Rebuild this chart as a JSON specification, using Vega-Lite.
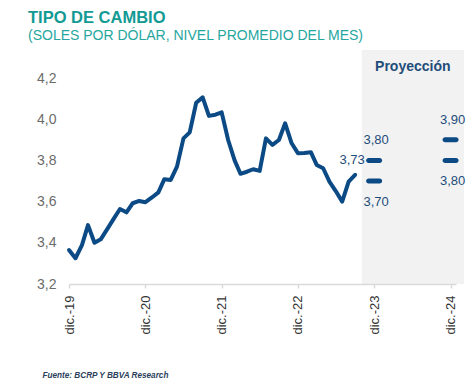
{
  "$schema": "https://vega.github.io/schema/vega-lite/v6.json",
  "autosize": {"type": "none"},
  "width": 387,
  "height": 206,
  "padding": {"left": 69, "top": 78, "right": 18, "bottom": 97},
  "background": "white",
  "title": {
    "text": "TIPO DE CAMBIO",
    "subtitle": "(SOLES POR DÓLAR, NIVEL PROMEDIO DEL MES)",
    "anchor": "start",
    "frame": "group",
    "dx": -41,
    "offset": 7,
    "font": "Liberation Sans",
    "fontSize": 16.5,
    "fontWeight": "bold",
    "color": "#139a94",
    "subtitleFont": "Liberation Sans",
    "subtitleFontSize": 14,
    "subtitleColor": "#26a69f",
    "subtitlePadding": 3
  },
  "datasets": {
    "serie": [
      {"fecha": "2019-12-01", "valor": 3.365},
      {"fecha": "2020-01-01", "valor": 3.325},
      {"fecha": "2020-02-01", "valor": 3.389},
      {"fecha": "2020-03-01", "valor": 3.486},
      {"fecha": "2020-04-01", "valor": 3.400},
      {"fecha": "2020-05-01", "valor": 3.417},
      {"fecha": "2020-06-01", "valor": 3.466},
      {"fecha": "2020-07-01", "valor": 3.515},
      {"fecha": "2020-08-01", "valor": 3.564},
      {"fecha": "2020-09-01", "valor": 3.548},
      {"fecha": "2020-10-01", "valor": 3.592},
      {"fecha": "2020-11-01", "valor": 3.603},
      {"fecha": "2020-12-01", "valor": 3.597},
      {"fecha": "2021-01-01", "valor": 3.620},
      {"fecha": "2021-02-01", "valor": 3.645},
      {"fecha": "2021-03-01", "valor": 3.708},
      {"fecha": "2021-04-01", "valor": 3.705},
      {"fecha": "2021-05-01", "valor": 3.770},
      {"fecha": "2021-06-01", "valor": 3.907},
      {"fecha": "2021-07-01", "valor": 3.936},
      {"fecha": "2021-08-01", "valor": 4.080},
      {"fecha": "2021-09-01", "valor": 4.106},
      {"fecha": "2021-10-01", "valor": 4.016},
      {"fecha": "2021-11-01", "valor": 4.022},
      {"fecha": "2021-12-01", "valor": 4.033},
      {"fecha": "2022-01-01", "valor": 3.899},
      {"fecha": "2022-02-01", "valor": 3.800},
      {"fecha": "2022-03-01", "valor": 3.735},
      {"fecha": "2022-04-01", "valor": 3.745},
      {"fecha": "2022-05-01", "valor": 3.757},
      {"fecha": "2022-06-01", "valor": 3.749},
      {"fecha": "2022-07-01", "valor": 3.907},
      {"fecha": "2022-08-01", "valor": 3.875},
      {"fecha": "2022-09-01", "valor": 3.899},
      {"fecha": "2022-10-01", "valor": 3.980},
      {"fecha": "2022-11-01", "valor": 3.883},
      {"fecha": "2022-12-01", "valor": 3.835},
      {"fecha": "2023-01-01", "valor": 3.836},
      {"fecha": "2023-02-01", "valor": 3.840},
      {"fecha": "2023-03-01", "valor": 3.778},
      {"fecha": "2023-04-01", "valor": 3.762},
      {"fecha": "2023-05-01", "valor": 3.697},
      {"fecha": "2023-06-01", "valor": 3.650},
      {"fecha": "2023-07-01", "valor": 3.600},
      {"fecha": "2023-08-01", "valor": 3.697},
      {"fecha": "2023-09-01", "valor": 3.730}
    ],
    "proyeccion": [
      {"fecha": "2023-12-01", "escenario": "alto", "valor": 3.80},
      {"fecha": "2023-12-01", "escenario": "bajo", "valor": 3.70},
      {"fecha": "2024-12-01", "escenario": "alto", "valor": 3.90},
      {"fecha": "2024-12-01", "escenario": "bajo", "valor": 3.80}
    ],
    "periodo": [
      {"inicio": "2023-10-03", "fin": "2025-02-03", "etiqueta": "Proyección"}
    ]
  },
  "encoding": {
    "x": {
      "field": "fecha",
      "type": "temporal",
      "scale": {
        "type": "utc",
        "domain": [
          {"year": 2019, "month": 12, "date": 1, "utc": true},
          {"year": 2024, "month": 12, "date": 27, "utc": true}
        ]
      },
      "axis": {
        "title": "Fuente: BCRP Y BBVA Research",
        "titleAnchor": "start",
        "titleAlign": "left",
        "titleX": -27,
        "titlePadding": 37,
        "titleFont": "Liberation Sans",
        "titleFontSize": 8.2,
        "titleFontWeight": "bold",
        "titleFontStyle": "italic",
        "titleColor": "#2b3f5c",
        "values": [
          {"year": 2019, "month": 12, "date": 1, "utc": true},
          {"year": 2020, "month": 12, "date": 1, "utc": true},
          {"year": 2021, "month": 12, "date": 1, "utc": true},
          {"year": 2022, "month": 12, "date": 1, "utc": true},
          {"year": 2023, "month": 12, "date": 1, "utc": true},
          {"year": 2024, "month": 12, "date": 1, "utc": true}
        ],
        "labelExpr": "'dic.-' + utcFormat(datum.value, '%y')",
        "labelAngle": -90,
        "labelFont": "Liberation Sans",
        "labelFontSize": 13,
        "labelColor": "#333333",
        "labelPadding": 7,
        "labelFlush": false,
        "labelOverlap": false,
        "grid": false,
        "domainColor": "#d9d9d9",
        "domainWidth": 1.5,
        "tickColor": "#d9d9d9",
        "tickSize": 4,
        "tickWidth": 1.5,
        "zindex": 1
      }
    },
    "y": {
      "field": "valor",
      "type": "quantitative",
      "scale": {"domain": [3.2, 4.2], "zero": false, "nice": false},
      "axis": {
        "title": null,
        "values": [3.2, 3.4, 3.6, 3.8, 4.0, 4.2],
        "format": ".1f",
        "domain": false,
        "ticks": false,
        "grid": false,
        "labelFont": "Liberation Sans",
        "labelFontSize": 14,
        "labelColor": "#6b6b6b",
        "labelPadding": 13
      }
    }
  },
  "layer": [
    {
      "data": {"name": "periodo"},
      "mark": {"type": "rect", "color": "#f2f2f2", "yOffset": -28, "y2Offset": 74},
      "encoding": {
        "x": {"field": "inicio", "type": "temporal"},
        "x2": {"field": "fin"},
        "y": null
      }
    },
    {
      "data": {"name": "periodo"},
      "mark": {"type": "text", "font": "Liberation Sans", "fontSize": 14, "fontWeight": "bold", "color": "#1f4d7a", "align": "center", "baseline": "alphabetic", "dx": 51, "dy": -7},
      "encoding": {
        "x": {"field": "inicio", "type": "temporal"},
        "y": {"value": 0},
        "text": {"field": "etiqueta"}
      }
    },
    {
      "data": {"name": "serie"},
      "mark": {"type": "line", "color": "#0b4a85", "strokeWidth": 4, "strokeCap": "round", "strokeJoin": "round"}
    },
    {
      "data": {"name": "serie"},
      "transform": [{"filter": {"field": "fecha", "equal": {"year": 2023, "month": 9, "date": 1, "utc": true}}}],
      "mark": {"type": "text", "font": "Liberation Sans", "fontSize": 13, "color": "#1f4d7a", "align": "center", "baseline": "middle", "dx": -3, "dy": -15},
      "encoding": {"text": {"field": "valor", "format": ".2f"}}
    },
    {
      "data": {"name": "proyeccion"},
      "mark": {"type": "tick", "orient": "horizontal", "size": 16, "thickness": 5, "cornerRadius": 2.5, "color": "#0b4a85", "opacity": 1}
    },
    {
      "data": {"name": "proyeccion"},
      "transform": [{"filter": "datum.escenario == 'alto'"}],
      "mark": {"type": "text", "font": "Liberation Sans", "fontSize": 13, "color": "#1f4d7a", "align": "center", "baseline": "middle", "dx": 2, "dy": -20},
      "encoding": {"text": {"field": "valor", "format": ".2f"}}
    },
    {
      "data": {"name": "proyeccion"},
      "transform": [{"filter": "datum.escenario == 'bajo'"}],
      "mark": {"type": "text", "font": "Liberation Sans", "fontSize": 13, "color": "#1f4d7a", "align": "center", "baseline": "middle", "dx": 2, "dy": 21},
      "encoding": {"text": {"field": "valor", "format": ".2f"}}
    }
  ],
  "config": {
    "view": {"stroke": null},
    "locale": {
      "number": {"decimal": ",", "thousands": ".", "grouping": [3], "currency": ["", " €"]}
    }
  }
}
